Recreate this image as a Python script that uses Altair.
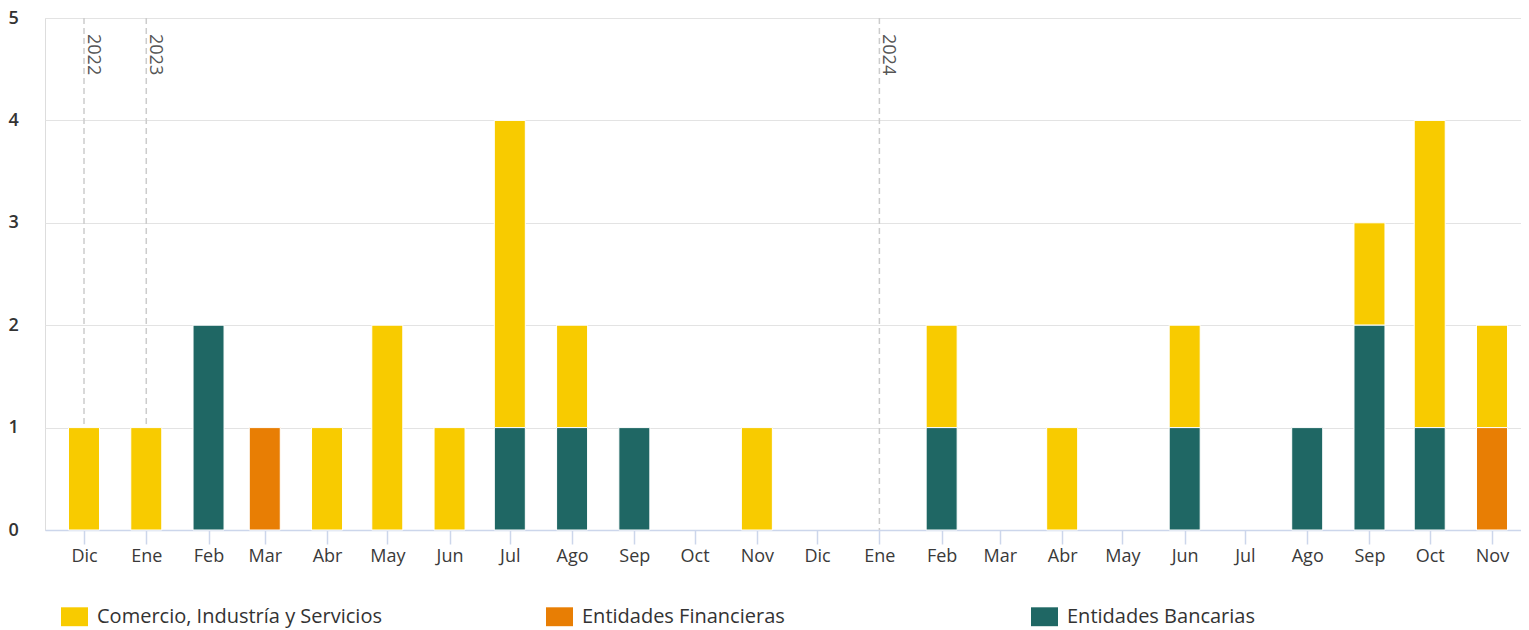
import altair as alt
import pandas as pd

# ---- data ----
months = ["2022-12-01", "2023-01-01", "2023-02-01", "2023-03-01", "2023-04-01", "2023-05-01",
          "2023-06-01", "2023-07-01", "2023-08-01", "2023-09-01", "2023-10-01", "2023-11-01",
          "2023-12-01", "2024-01-01", "2024-02-01", "2024-03-01", "2024-04-01", "2024-05-01",
          "2024-06-01", "2024-07-01", "2024-08-01", "2024-09-01", "2024-10-01", "2024-11-01"]
comercio    = [1, 1, 0, 0, 1, 2, 1, 3, 1, 0, 0, 1, 0, 0, 1, 0, 1, 0, 1, 0, 0, 1, 3, 1]
financieras = [0, 0, 0, 1, 0, 0, 0, 0, 0, 0, 0, 0, 0, 0, 0, 0, 0, 0, 0, 0, 0, 0, 0, 1]
bancarias   = [0, 0, 2, 0, 0, 0, 0, 1, 1, 1, 0, 0, 0, 0, 1, 0, 0, 0, 1, 0, 1, 2, 1, 0]

series_names = ["Comercio, Industría y Servicios", "Entidades Financieras", "Entidades Bancarias"]
series_colors = ["#F8CB00", "#E87E04", "#1F6764"]
stack_rank = [3, 2, 1]  # Bancarias at the bottom

month_labels = ["Ene", "Feb", "Mar", "Abr", "May", "Jun", "Jul", "Ago", "Sep", "Oct", "Nov", "Dic"]

year_labels = ["2022", "2023", "2024"]
year_dates = ["2022-12-01", "2023-01-01", "2024-01-01"]

y_ticks = [0, 1, 2, 3, 4, 5]

# ---- tables ----
rows = []
for name, vals, rank in zip(series_names, [comercio, financieras, bancarias], stack_rank):
    for m, v in zip(months, vals):
        if v > 0:
            rows.append({"mes": m, "serie": name, "valor": v, "orden": rank})
df = pd.DataFrame(rows)
years_df = pd.DataFrame({"fecha": year_dates, "anio": year_labels})

DAY = 86400000


def ms(s):
    return int(pd.Timestamp(s, tz="UTC").value // 10**6)


tick_values = [ms(m) for m in months]
x_domain = [ms(months[0]) - int(19.42 * DAY), ms(months[-1]) + int(14.44 * DAY)]
label_expr = "[" + ",".join("'%s'" % l for l in month_labels) + "][utcmonth(datum.value)]"

FONT = "Open Sans"

x_scale = alt.Scale(type="utc", domain=x_domain, nice=False, padding=0)

bars = alt.Chart(df).mark_bar(size=31, stroke="white", strokeWidth=1).encode(
    x=alt.X("mes:T", scale=x_scale,
            axis=alt.Axis(title=None, values=tick_values, labelExpr=label_expr,
                          grid=False, domainColor="#ccd6eb", tickColor="#ccd6eb",
                          tickSize=14, domainWidth=1.5, tickWidth=1.5,
                          labelFontSize=18, labelColor="#3a3a3a", labelPadding=3,
                          labelFont=FONT, labelFlush=False)),
    y=alt.Y("valor:Q", stack="zero", scale=alt.Scale(domain=[0, 5], nice=False),
            axis=alt.Axis(title=None, values=y_ticks, grid=True, gridColor="#e3e3e3",
                          domain=False, ticks=False, labelFontSize=18, labelColor="#333",
                          labelFont=FONT, labelFontWeight=600, labelAlign="left",
                          labelPadding=37)),
    color=alt.Color("serie:N",
                    scale=alt.Scale(domain=series_names, range=series_colors),
                    legend=alt.Legend(title=None, orient="none", legendX=16, legendY=585,
                                      direction="horizontal", columns=3, gridAlign="all",
                                      columnPadding=164,
                                      symbolType="M-1,-0.7L1,-0.7L1,0.7L-1,0.7Z",
                                      symbolSize=729, symbolStrokeWidth=0, symbolOpacity=1,
                                      labelFontSize=20, labelColor="#333", labelFont=FONT,
                                      labelOffset=9, labelLimit=400)),
    order=alt.Order("orden:Q"),
)

rules = alt.Chart(years_df).mark_rule(color="#cccccc", strokeDash=[6, 4], strokeWidth=1.5).encode(
    x=alt.X("fecha:T", scale=x_scale),
)

texts = alt.Chart(years_df).mark_text(angle=90, align="left", baseline="bottom",
                                      fontSize=18, color="#555", font=FONT).encode(
    x=alt.X("fecha:T", scale=x_scale),
    y=alt.value(16),
    text="anio:N",
)

chart = alt.layer(rules, bars, texts).properties(
    width=1476, height=512,
    padding={"left": 0, "top": 1, "right": 0, "bottom": 8},
).configure_view(stroke=None).configure(font=FONT)

chart.save("out.html", embed_options={"renderer": "svg", "actions": False})
